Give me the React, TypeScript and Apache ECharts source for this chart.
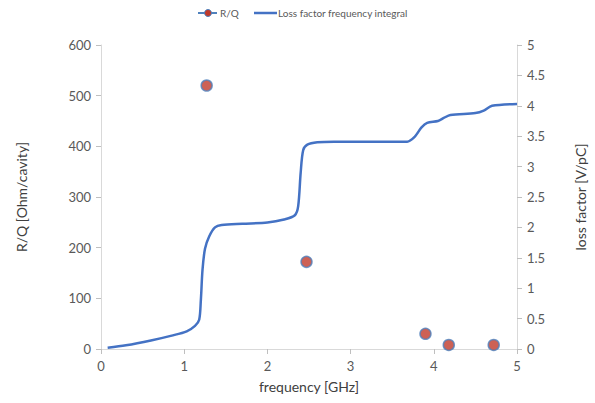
import React, { useEffect, useRef } from "react";
import * as echarts from "echarts";

const rqFreq = [1.27, 2.47, 3.9, 4.18, 4.72];
const rqValues = [520, 172, 30, 8, 8];

const lossFreq = [0.08, 0.3, 0.6, 0.85, 1.03, 1.13, 1.18, 1.2, 1.22, 1.25, 1.3, 1.37, 1.45, 1.7, 2.0, 2.2, 2.33, 2.37, 2.4, 2.43, 2.48, 2.6, 2.8, 3.2, 3.68, 3.77, 3.85, 3.92, 4.05, 4.12, 4.2, 4.5, 4.6, 4.7, 5.0];
const lossValues = [0.02, 0.06, 0.14, 0.22, 0.29, 0.38, 0.48, 0.8, 1.3, 1.65, 1.85, 2.0, 2.04, 2.06, 2.08, 2.13, 2.2, 2.35, 2.9, 3.27, 3.36, 3.4, 3.41, 3.41, 3.41, 3.49, 3.64, 3.72, 3.75, 3.8, 3.85, 3.88, 3.92, 4.0, 4.03];

const seriesNames = ["R/Q", "Loss factor frequency integral"];

const FONT = "Lato, 'Open Sans', sans-serif";
const DOT_FILL = "#C0392B";
const DOT_BORDER = "#4F81BD";
const LINE_COLOR = "#4472C4";

export default function App() {
  const ref = useRef<HTMLDivElement>(null);
  useEffect(() => {
    if (!ref.current) return;
    const chart = echarts.init(ref.current, undefined, { renderer: "svg" });
    const axisLine = { show: true, lineStyle: { color: "#D9D9D9", width: 1 } };
    const axisTick = { show: true, length: 5, lineStyle: { color: "#BFBFBF" } };
    const axisLabel = { color: "#595959", fontSize: 13, fontFamily: FONT };
    const nameStyle = { color: "#404040", fontSize: 14, fontFamily: FONT };
    const legendText = { fill: "#595959", fontSize: 10, fontFamily: FONT, verticalAlign: "middle" };
    chart.setOption({
      animation: false,
      textStyle: { fontFamily: FONT },
      graphic: [
        { type: "line", shape: { x1: 198, y1: 13, x2: 217, y2: 13 }, style: { stroke: DOT_BORDER, lineWidth: 2 } },
        { type: "circle", shape: { cx: 208, cy: 13, r: 3.5 }, style: { fill: DOT_FILL, stroke: DOT_BORDER, lineWidth: 1 } },
        { type: "text", x: 220, y: 13, style: { ...legendText, text: seriesNames[0] } },
        { type: "line", shape: { x1: 254, y1: 13, x2: 277, y2: 13 }, style: { stroke: LINE_COLOR, lineWidth: 2.5 } },
        { type: "text", x: 278, y: 13, style: { ...legendText, text: seriesNames[1] } },
      ],
      grid: { left: 101, right: 78, top: 45, bottom: 54 },
      xAxis: {
        type: "value",
        min: 0,
        max: 5,
        interval: 1,
        name: "frequency [GHz]",
        nameLocation: "middle",
        nameGap: 30,
        nameTextStyle: nameStyle,
        axisLine,
        axisTick,
        axisLabel: { ...axisLabel, margin: 10 },
        splitLine: { show: false },
      },
      yAxis: [
        {
          type: "value",
          min: 0,
          max: 600,
          interval: 100,
          name: "R/Q [Ohm/cavity]",
          nameLocation: "middle",
          nameGap: 73,
          nameTextStyle: nameStyle,
          axisLine,
          axisTick,
          axisLabel: { ...axisLabel, margin: 10 },
          splitLine: { show: false },
        },
        {
          type: "value",
          min: 0,
          max: 5,
          interval: 0.5,
          position: "right",
          name: "loss factor [V/pC]",
          nameLocation: "middle",
          nameGap: 56,
          nameTextStyle: nameStyle,
          axisLine,
          axisTick,
          axisLabel: { ...axisLabel, margin: 10 },
          splitLine: { show: false },
        },
      ],
      series: [
        {
          name: seriesNames[0],
          type: "scatter",
          yAxisIndex: 0,
          symbol: "circle",
          symbolSize: 11,
          itemStyle: { color: DOT_FILL, borderColor: DOT_BORDER, borderWidth: 1.5 },
          data: rqFreq.map((f, i) => [f, rqValues[i]]),
          z: 3,
        },
        {
          name: seriesNames[1],
          type: "line",
          yAxisIndex: 1,
          smooth: 0.3,
          showSymbol: false,
          symbol: "none",
          lineStyle: { color: LINE_COLOR, width: 2.5 },
          itemStyle: { color: LINE_COLOR },
          data: lossFreq.map((f, i) => [f, lossValues[i]]),
          z: 2,
        },
      ],
    });
    return () => chart.dispose();
  }, []);
  return <div ref={ref} style={{ width: 595, height: 403, position: "absolute", left: 0, top: 0, background: "#fff" }} />;
}
